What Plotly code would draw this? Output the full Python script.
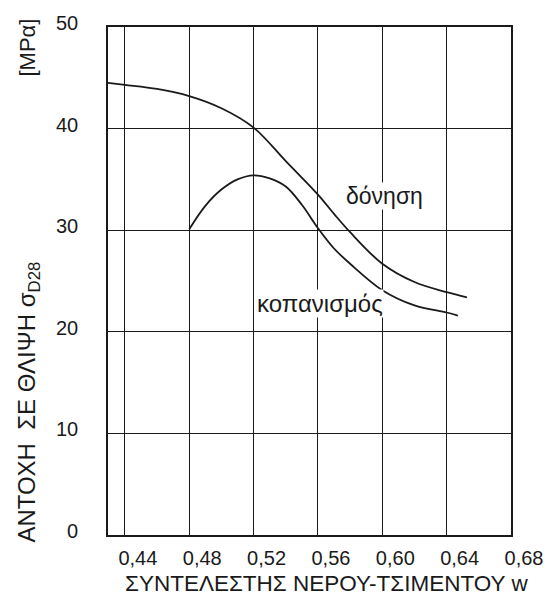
import plotly.graph_objects as go

# Data
w_donisi = [0.4295, 0.44, 0.46, 0.48, 0.50, 0.52, 0.54, 0.56, 0.57, 0.58, 0.60, 0.62, 0.64, 0.6526]
s_donisi = [44.5, 44.3, 43.9, 43.2, 42.0, 40.1, 36.8, 33.5, 31.6, 29.8, 26.7, 24.9, 23.9, 23.4]

w_kopan = [0.48, 0.49, 0.50, 0.51, 0.52, 0.53, 0.54, 0.55, 0.56, 0.57, 0.58, 0.60, 0.62, 0.64, 0.647]
s_kopan = [30.1, 32.4, 34.0, 35.0, 35.4, 35.1, 34.3, 32.5, 30.2, 28.2, 26.7, 24.1, 22.6, 21.9, 21.6]

x_ticks = [0.44, 0.48, 0.52, 0.56, 0.60, 0.64, 0.68]
x_tick_labels = ["0,44", "0,48", "0,52", "0,56", "0,60", "0,64", "0,68"]
y_ticks = [0, 10, 20, 30, 40, 50]

FONT = "Liberation Sans, Arial, sans-serif"
INK = "#1a1a1a"

fig = go.Figure()
fig.add_trace(go.Scatter(x=w_donisi, y=s_donisi, mode="lines",
                         line=dict(color=INK, width=1.8, shape="spline"),
                         name="δόνηση", showlegend=False))
fig.add_trace(go.Scatter(x=w_kopan, y=s_kopan, mode="lines",
                         line=dict(color=INK, width=1.8, shape="spline"),
                         name="κοπανισμός", showlegend=False))

fig.update_layout(
    width=555, height=602,
    margin=dict(l=108, r=40, t=20, b=67),
    paper_bgcolor="white", plot_bgcolor="white",
    font=dict(family=FONT, size=20, color=INK),
    xaxis=dict(range=[0.4295, 0.68], tickvals=x_ticks, ticktext=x_tick_labels,
               showgrid=True, gridcolor=INK, gridwidth=1.4,
               showline=True, linecolor=INK, linewidth=1.6, mirror=True,
               zeroline=False, ticks="", ticklabelshift=13, ticklabelstandoff=4,
               tickfont=dict(size=20)),
    yaxis=dict(range=[0, 50], tickvals=y_ticks,
               showgrid=True, gridcolor=INK, gridwidth=1.4,
               showline=True, linecolor=INK, linewidth=1.6, mirror=True,
               zeroline=False, ticks="", ticklabelshift=-4, ticklabelstandoff=24,
               tickfont=dict(size=20)),
)

fig.add_annotation(text="ΣΥΝΤΕΛΕΣΤΗΣ ΝΕΡΟΥ-ΤΣΙΜΕΝΤΟΥ w", xref="paper", yref="paper",
                   x=(329 - 108) / 407, y=(535 - 584) / 515, xanchor="center", yanchor="middle",
                   showarrow=False, font=dict(size=22.5))
fig.add_annotation(text="ΑΝΤΟΧΗ\u00a0 ΣΕ ΘΛΙΨΗ σ<sub>D28</sub>", xref="paper", yref="paper",
                   x=(28 - 108) / 407, y=(535 - 400) / 515, xanchor="center", yanchor="middle",
                   textangle=-90, showarrow=False, font=dict(size=24))
fig.add_annotation(text="[MPα]", xref="paper", yref="paper",
                   x=(27 - 108) / 407, y=(535 - 41) / 515, xanchor="center", yanchor="middle",
                   textangle=-90, showarrow=False, font=dict(size=22))
fig.add_annotation(text="δόνηση", x=0.6015, y=33.4, xref="x", yref="y",
                   showarrow=False, font=dict(size=23), bgcolor="white", borderpad=0)
fig.add_annotation(text="κοπανισμός", x=0.5615, y=22.8, xref="x", yref="y",
                   showarrow=False, font=dict(size=24), bgcolor="white", borderpad=0)

fig.write_html("out.html",
               config={"displayModeBar": False},
               post_script="document.body.style.margin='0px';document.body.style.overflow='hidden';")
